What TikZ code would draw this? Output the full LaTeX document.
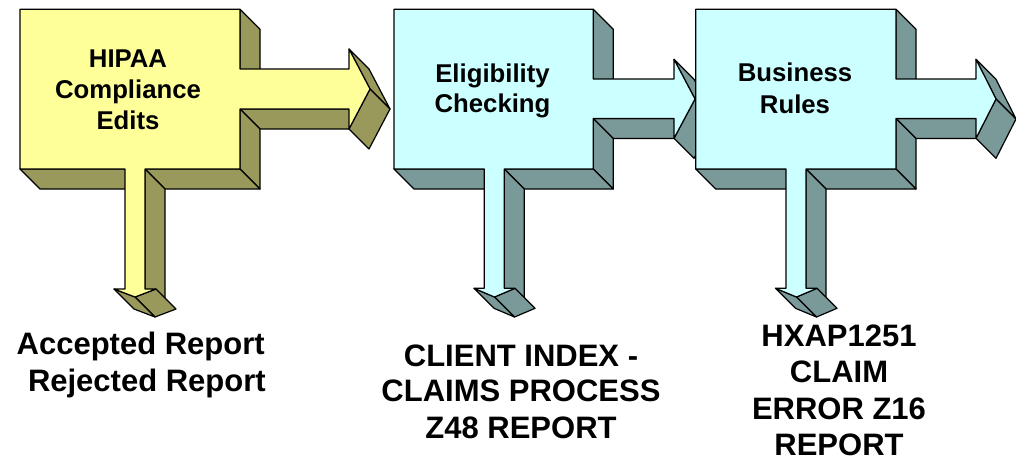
\documentclass[tikz,border=0pt]{standalone}
\usepackage{fontspec}
\setmainfont{Liberation Sans}
\definecolor{yfront}{HTML}{FFFF99}
\definecolor{yside}{HTML}{99995C}
\definecolor{cfront}{HTML}{CCFFFF}
\definecolor{cside}{HTML}{7A9999}
\pgfkeys{/blk/.cd,
  L/.store in=\bL, T/.store in=\bT, R/.store in=\bR, B/.store in=\bB,
  ST/.store in=\bST, SB/.store in=\bSB, SE/.store in=\bSE,
  HT/.store in=\bHT, HB/.store in=\bHB, TX/.store in=\bTX, TY/.store in=\bTY,
  DL/.store in=\bDL, DR/.store in=\bDR, DE/.store in=\bDE,
  WL/.store in=\bWL, WR/.store in=\bWR, DTX/.store in=\bDTX, DTY/.store in=\bDTY}
\newcommand\drawblock[3]{%
  \pgfkeys{/blk/.cd,#1}%
  \begin{scope}[face/.style={draw=black,fill=#3,line width=0.9pt,line join=round}]
    % box right face, upper part
    \path[face] (\bR,\bT) -- (\bR+20,\bT+20) -- (\bR+20,\bST+20) -- (\bR,\bST) -- cycle;
    % shaft bottom face
    \path[face] (\bR,\bSB) -- (\bSE,\bSB) -- (\bSE+20,\bSB+20) -- (\bR+20,\bSB+20) -- cycle;
    % box right face, lower part
    \path[face] (\bR,\bSB) -- (\bR+20,\bSB+20) -- (\bR+20,\bB+20) -- (\bR,\bB) -- cycle;
    % box bottom faces
    \path[face] (\bDR,\bB) -- (\bR,\bB) -- (\bR+20,\bB+20) -- (\bDR+20,\bB+20) -- cycle;
    \path[face] (\bL,\bB) -- (\bDL,\bB) -- (\bDL+20,\bB+20) -- (\bL+20,\bB+20) -- cycle;
    % down shaft right face
    \path[face] (\bDR,\bB) -- (\bDR+20,\bB+20) -- (\bDR+20,\bDE+20) -- (\bDR,\bDE) -- cycle;
    % right arrow head faces
    \path[face] (\bSE,\bHT) -- (\bTX,\bTY) -- (\bTX+20,\bTY+20) -- (\bSE+20,\bHT+20) -- cycle;
    \path[face] (\bTX,\bTY) -- (\bSE,\bHB) -- (\bSE+20,\bHB+20) -- (\bTX+20,\bTY+20) -- cycle;
    % down arrow head faces
    \path[face] (\bWR,\bDE) -- (\bDTX,\bDTY) -- (\bDTX+20,\bDTY+20) -- (\bWR+20,\bDE+20) -- cycle;
    \path[face] (\bWL,\bDE) -- (\bDTX,\bDTY) -- (\bDTX+20,\bDTY+20) -- (\bWL+20,\bDE+20) -- cycle;
    % front face
    \path[face,fill=#2] (\bL,\bT) -- (\bR,\bT) -- (\bR,\bST) -- (\bSE,\bST) -- (\bSE,\bHT)
      -- (\bTX,\bTY) -- (\bSE,\bHB) -- (\bSE,\bSB) -- (\bR,\bSB) -- (\bR,\bB)
      -- (\bDR,\bB) -- (\bDR,\bDE) -- (\bWR,\bDE) -- (\bDTX,\bDTY) -- (\bWL,\bDE)
      -- (\bDL,\bDE) -- (\bDL,\bB) -- (\bL,\bB) -- cycle;
  \end{scope}}
\begin{document}
\begin{tikzpicture}[x=0.75pt,y=-0.75pt,
  boxtext/.style={anchor=base,inner sep=0pt,font=\fontsize{19.3}{23}\selectfont\bfseries},
  outtext/.style={anchor=base,inner sep=0pt,font=\fontsize{23.25}{28}\selectfont\bfseries}]
\useasboundingbox[fill=white] (0,0) rectangle (1016,461);
\drawblock{L=20,T=9.3,R=240,B=169,ST=69,SB=109,SE=349,HT=49,HB=129,TX=370,TY=89,
  DL=125,DR=145,DE=289,WL=114,WR=156,DTX=135,DTY=297}{yfront}{yside}
\drawblock{L=394,T=9.3,R=593.3,B=169,ST=79,SB=118.5,SE=674,HT=59.3,HB=138.3,TX=695,TY=99,
  DL=484.3,DR=504.3,DE=288.3,WL=474,WR=515,DTX=494.5,DTY=297}{cfront}{cside}
\drawblock{L=695.7,T=9.3,R=896,B=169,ST=79,SB=118.5,SE=976,HT=59.3,HB=138.3,TX=996,TY=99,
  DL=786,DR=806,DE=288.3,WL=775.5,WR=817,DTX=796.5,DTY=297}{cfront}{cside}
% box labels
\node[boxtext] (h1) at (128,67) {HIPAA};
\node[boxtext] (h2) at (128,98.3) {Compliance};
\node[boxtext] (h3) at (128,129.5) {Edits};
\node[boxtext] (e1) at (492.5,82.4) {Eligibility};
\node[boxtext] (e2) at (492.5,112.6) {Checking};
\node[boxtext] (b1) at (795,81.7) {Business};
\node[boxtext] (b2) at (795,113.2) {Rules};
% output labels
\node[outtext,anchor=base east] (a1) at (265,354.3) {Accepted Report};
\node[outtext,anchor=base east] (a2) at (266,391.7) {Rejected Report};
\node[outtext] (c1) at (521,366) {CLIENT INDEX -};
\node[outtext] (c2) at (521,401.7) {CLAIMS PROCESS};
\node[outtext] (c3) at (521,438.3) {Z48 REPORT};
\node[outtext] (x1) at (839,346) {HXAP1251};
\node[outtext] (x2) at (839,382.5) {CLAIM};
\node[outtext] (x3) at (839,419) {ERROR Z16};
\node[outtext] (x4) at (839,455) {REPORT};
\end{tikzpicture}
\end{document}
